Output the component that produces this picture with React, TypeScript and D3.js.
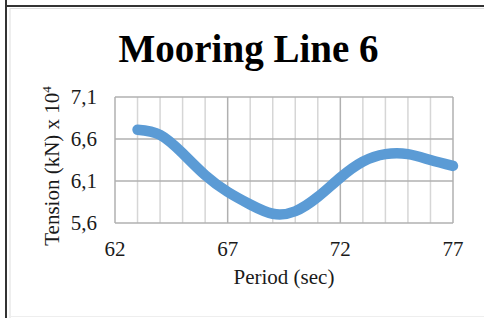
import React from 'react';
import * as d3 from 'd3';

const periods = [63, 64, 65, 66, 67, 68, 69, 70, 71, 72, 73, 74, 75, 76, 77];
const tension = [6.71, 6.65, 6.43, 6.17, 5.97, 5.82, 5.71, 5.74, 5.91, 6.14, 6.33, 6.42, 6.42, 6.35, 6.28];
const xTicks = [62, 67, 72, 77];
const yTicks = [5.6, 6.1, 6.6, 7.1];

const W = 484;
const H = 318;
const margin = { top: 97, right: 31, bottom: 95, left: 115 };

const font = '"Liberation Serif", "Times New Roman", serif';

const App: React.FC = () => {
  const x = d3.scaleLinear().domain([62, 77]).range([margin.left, W - margin.right]);
  const y = d3.scaleLinear().domain([5.6, 7.1]).range([H - margin.bottom, margin.top]);

  const line = d3
    .line<number>()
    .x((_, i) => x(periods[i]))
    .y(d => y(d))
    .curve(d3.curveNatural);

  const minor = d3.range(62, 78);
  const fmt = (v: number) => v.toFixed(1).replace('.', ',');

  return (
    <svg width={W} height={H} style={{ position: 'absolute', left: 0, top: 0, background: '#fff' }}>
      {/* frame */}
      <line x1={6} x2={6} y1={0} y2={H} stroke="#333" strokeWidth={2} />
      <line x1={10} x2={10} y1={8} y2={H} stroke="#ddd" strokeWidth={1} />
      <line x1={6} x2={W} y1={6} y2={6} stroke="#333" strokeWidth={2} />
      <line x1={10} x2={W} y1={8.5} y2={8.5} stroke="#ddd" strokeWidth={1} />
      <line x1={10} x2={W} y1={316.5} y2={316.5} stroke="#eee" strokeWidth={1} />

      <text x={248.5} y={62} textAnchor="middle" fontFamily={font} fontWeight="bold" fontSize={39}>
        Mooring Line 6
      </text>

      {/* grid */}
      {minor.map(v => (
        <line
          key={'v' + v}
          x1={x(v)}
          x2={x(v)}
          y1={y(7.1)}
          y2={y(5.6)}
          stroke={(v - 62) % 5 === 0 ? '#b0b0b0' : '#d6d6d6'}
          strokeWidth={1.5}
        />
      ))}
      {yTicks.map(v => (
        <line key={'h' + v} x1={x(62)} x2={x(77)} y1={y(v)} y2={y(v)} stroke="#b0b0b0" strokeWidth={1.5} />
      ))}

      <path
        d={line(tension) ?? ''}
        fill="none"
        stroke="#5B9BD5"
        strokeWidth={10.5}
        strokeLinecap="round"
        strokeLinejoin="round"
      />

      {yTicks.map(v => (
        <text
          key={'yt' + v}
          x={97}
          y={y(v)}
          dy="0.35em"
          textAnchor="end"
          fontFamily={font}
          fontSize={21}
          fill="#1a1a1a"
        >
          {fmt(v)}
        </text>
      ))}
      {xTicks.map(v => (
        <text key={'xt' + v} x={x(v)} y={256} textAnchor="middle" fontFamily={font} fontSize={21} fill="#1a1a1a">
          {v}
        </text>
      ))}

      <text x={284} y={284} textAnchor="middle" fontFamily={font} fontSize={21} fill="#1a1a1a">
        Period (sec)
      </text>
      <text
        transform={`translate(58.5,166) rotate(-90)`}
        textAnchor="middle"
        fontFamily={font}
        fontSize={21}
        fill="#1a1a1a"
      >
        Tension (kN) x 10
        <tspan dy={-8} fontSize={13}>
          4
        </tspan>
      </text>
    </svg>
  );
};

export default App;
